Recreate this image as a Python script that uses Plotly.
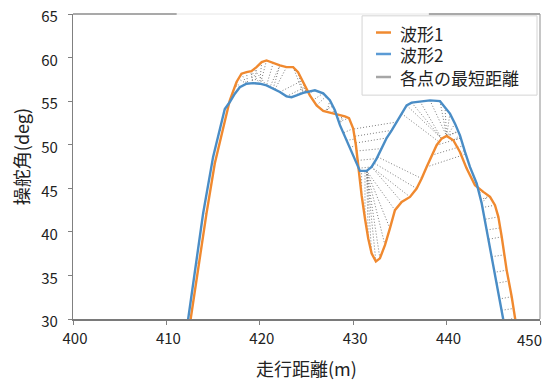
import numpy as np
import plotly.graph_objects as go

# 波形1 (orange)
wave1_x = [412.25, 412.58, 413.44, 414.29, 415.18, 416.07, 416.79, 417.51, 418.04, 418.58,
           419.10, 419.65, 420.20, 420.72, 421.43, 422.15, 422.86, 423.57, 424.10, 424.64,
           425.36, 426.08, 426.79, 427.50, 428.39, 429.11, 429.55, 430.00, 430.29, 430.54,
           430.90, 431.26, 431.61, 431.97, 432.43, 432.86, 433.40, 433.93, 434.47, 435.19,
           436.08, 436.79, 437.33, 437.86, 438.40, 438.93, 439.47, 440.00, 440.72, 441.43,
           442.15, 442.60, 443.04, 443.93, 444.65, 445.18, 445.54, 445.90, 446.43, 446.97,
           447.33, 447.55]
wave1_y = [27.5, 29.9, 36.4, 42.1, 47.85, 51.85, 55.1, 57.2, 58.15, 58.33,
           58.45, 58.9, 59.48, 59.67, 59.36, 59.1, 58.9, 58.9, 58.33, 57.2,
           55.66, 54.52, 53.87, 53.68, 53.49, 53.26, 53.05, 51.85, 49.94, 47.26,
           44.2, 41.53, 39.24, 37.53, 36.6, 36.96, 38.48, 40.39, 42.49, 43.44,
           44.01, 44.97, 46.12, 47.45, 48.79, 49.94, 50.7, 51.0, 50.51, 49.17,
           47.26, 46.2, 45.35, 44.59, 44.01, 43.06, 41.72, 39.43, 35.61, 32.56,
           30.08, 28.6]

# 波形2 (blue)
wave2_x = [412.0, 412.32, 413.15, 413.93, 415.0, 415.72, 416.25, 416.79, 417.33, 417.86,
           418.58, 419.29, 420.0, 420.72, 421.43, 422.15, 422.86, 423.4, 423.94, 424.64,
           425.9, 426.79, 427.5, 428.04, 428.58, 429.29, 430.0, 430.72, 431.44, 431.97,
           432.51, 433.04, 433.58, 434.12, 434.65, 435.19, 435.72, 436.26, 437.15, 438.22,
           439.29, 439.83, 440.36, 440.9, 441.43, 441.97, 442.5, 443.22, 443.76, 444.29,
           444.83, 445.36, 445.9, 446.3]
wave2_y = [27.5, 29.9, 36.4, 42.1, 48.6, 51.65, 54.1, 54.9, 55.85, 56.6,
           57.0, 57.07, 57.0, 56.8, 56.45, 56.05, 55.55, 55.45, 55.65, 55.95,
           56.25, 55.9, 55.1, 53.95, 52.25, 50.5, 48.6, 47.0, 47.0, 47.45,
           48.41, 49.56, 50.77, 51.65, 52.6, 53.57, 54.52, 54.83, 54.98, 55.09,
           55.0, 54.32, 53.57, 52.42, 51.08, 49.17, 47.45, 45.55, 43.25, 40.2,
           37.15, 34.1, 31.0, 28.6]

x_ticks = [400, 410, 420, 430, 440, 450]
y_ticks = [30, 35, 40, 45, 50, 55, 60, 65]
legend_names = ["波形1", "波形2", "各点の最短距離"]

ORANGE = "#F0892F"
BLUE = "#4A8DC6"

# nearest point on the other polyline for every vertex (screen-scaled distance)
SX, SY = 9.333, 8.729


def nearest_on_polyline(px, py, xs, ys):
    xs = np.asarray(xs) * SX
    ys = np.asarray(ys) * SY
    p = np.array([px * SX, py * SY])
    best, bd = None, 1e18
    for i in range(len(xs) - 1):
        a = np.array([xs[i], ys[i]])
        b = np.array([xs[i + 1], ys[i + 1]])
        ab = b - a
        t = np.clip(np.dot(p - a, ab) / max(np.dot(ab, ab), 1e-12), 0, 1)
        q = a + t * ab
        d = np.sum((p - q) ** 2)
        if d < bd:
            bd, best = d, q
    return best[0] / SX, best[1] / SY


cx, cy = [], []
for (ax, ay, bx, by) in [(wave1_x, wave1_y, wave2_x, wave2_y), (wave2_x, wave2_y, wave1_x, wave1_y)]:
    for px, py in zip(ax, ay):
        qx, qy = nearest_on_polyline(px, py, bx, by)
        cx += [px, qx, None]
        cy += [py, qy, None]

fig = go.Figure()
fig.add_trace(go.Scatter(x=cx, y=cy, mode="lines", name=legend_names[2],
                         line=dict(color="rgba(110,110,110,0.9)", width=1, dash="1px,2px"),
                         showlegend=False, hoverinfo="skip"))
fig.add_trace(go.Scatter(x=wave1_x, y=wave1_y, mode="lines", name=legend_names[0],
                         line=dict(color=ORANGE, width=2.4), showlegend=False))
fig.add_trace(go.Scatter(x=wave2_x, y=wave2_y, mode="lines", name=legend_names[1],
                         line=dict(color=BLUE, width=2.4), showlegend=False))

FONT = "Noto Sans CJK JP, Noto Sans, sans-serif"
AX = "#808080"

x_ticktext = [str(v) for v in x_ticks[:-1]] + [""]

fig.update_layout(
    width=549, height=380,
    margin=dict(l=73, r=9, t=14, b=61, autoexpand=False),
    paper_bgcolor="white", plot_bgcolor="white",
    font=dict(family=FONT, color="#222222", size=15),
    xaxis=dict(range=[400, 450], tickvals=x_ticks, ticktext=x_ticktext,
               showgrid=False, zeroline=False, automargin=False,
               showline=True, linecolor="#7a7a7a", linewidth=1.8, ticks="outside", ticklen=4,
               tickcolor=AX, tickwidth=1.3, ticklabelstandoff=1, ticklabelshift=2,
               tickfont=dict(size=15, color="#222222")),
    yaxis=dict(range=[30, 65], tickvals=y_ticks, showgrid=False, zeroline=False,
               automargin=False,
               showline=True, linecolor=AX, linewidth=1.4, ticks="outside", ticklen=4,
               tickcolor=AX, tickwidth=1.3, ticklabelstandoff=7, ticklabelshift=3,
               tickfont=dict(size=15, color="#222222")),
    showlegend=False,
)

shapes = [
    dict(type="line", xref="paper", yref="paper", x0=0, x1=1, y0=1, y1=1,
         line=dict(color="#e6e6e6", width=1)),
    dict(type="line", xref="paper", yref="paper", x0=0, x1=0.222, y0=1, y1=1,
         line=dict(color="#909090", width=1.3)),
    dict(type="line", xref="paper", yref="paper", x0=0.762, x1=1, y0=1, y1=1,
         line=dict(color="#909090", width=1.3)),
    dict(type="line", xref="paper", yref="paper", x0=1, x1=1, y0=0, y1=1,
         line=dict(color="#a0a0a0", width=1.2)),
    dict(type="rect", xref="paper", yref="paper", x0=0.619, x1=0.9936, y0=0.734, y1=0.994,
         line=dict(color="#d4d4d4", width=1), fillcolor="white", layer="above"),
]
leg_y = [0.9393, 0.8689, 0.7934]
leg_col = ["#F08A30", "#5B9BD5", "#a6a6a6"]
annotations = []
for yy, col, nm in zip(leg_y, leg_col, legend_names):
    shapes.append(dict(type="line", xref="paper", yref="paper", x0=0.6488, x1=0.6809,
                       y0=yy, y1=yy, line=dict(color=col, width=2.5), layer="above"))
    annotations.append(dict(xref="paper", yref="paper", x=0.698, y=yy, text=nm,
                            showarrow=False, xanchor="left", yanchor="middle",
                            height=20, borderpad=0,
                            font=dict(size=17, color="#222222", family=FONT)))

# last x tick label, kept inside the window edge
annotations.append(dict(xref="paper", yref="paper", x=1.008, y=-0.0656, text=str(x_ticks[-1]),
                        showarrow=False, xanchor="right", yanchor="middle",
                        font=dict(size=15, color="#222222", family=FONT)))
annotations.append(dict(xref="paper", yref="paper", x=0.5, y=-0.1607, text="走行距離(m)",
                        showarrow=False, xanchor="center", yanchor="middle",
                        font=dict(size=18, color="#222222", family=FONT)))
annotations.append(dict(xref="paper", yref="paper", x=-0.111, y=0.531, text="操舵角(deg)",
                        showarrow=False, xanchor="center", yanchor="middle", textangle=-90,
                        font=dict(size=18, color="#222222", family=FONT)))

fig.update_layout(shapes=shapes, annotations=annotations)
fig.write_html("out.html", config={"displayModeBar": False},
               post_script="document.body.style.margin='0';")
